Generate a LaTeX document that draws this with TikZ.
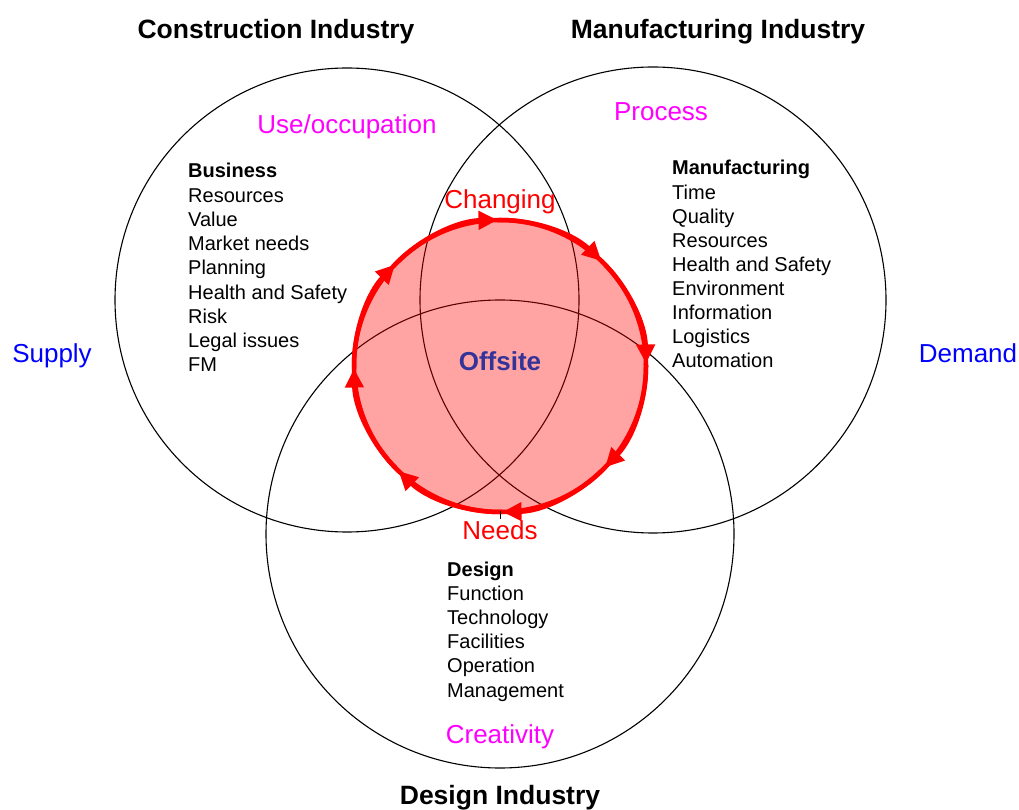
\documentclass[tikz,border=0pt]{standalone}
\usepackage{fontspec}
\setmainfont{Liberation Sans}
\usetikzlibrary{arrows.meta}
\definecolor{offblue}{RGB}{51,51,153}
\definecolor{pinkred}{RGB}{255,0,0}
\definecolor{puremag}{RGB}{255,0,255}
\definecolor{pureblue}{RGB}{0,0,255}
\begin{document}
\begin{tikzpicture}[x=1pt,y=1pt,
  ring/.style={draw=black, line width=1.1pt},
  redring/.style={draw=pinkred, line width=4.5pt},
  title/.style={font=\fontsize{26.5}{30}\selectfont\bfseries, anchor=base, inner sep=0pt},
  big/.style={font=\fontsize{26}{30}\selectfont, anchor=base, inner sep=0pt},
  item/.style={font=\fontsize{20}{24}\selectfont, anchor=base west, inner sep=0pt},
  itemhead/.style={font=\fontsize{20}{24}\selectfont\bfseries, anchor=base west, inner sep=0pt},
]
\useasboundingbox (0,0) rectangle (1019,809);
\coordinate (cL) at (347,509);
\coordinate (cM) at (653,509);
\coordinate (cD) at (500,275);
\coordinate (cO) at (500,443);
% industry circles
\draw[ring] (cL) circle[radius=232];
\draw[ring] (cM) circle[radius=233];
\draw[ring] (cD) circle[radius=234];
% offsite circle
\fill[pinkred, fill opacity=0.36] (cO) circle[radius=146];
\draw[redring] (cO) circle[radius=146];
\foreach \a in {0,45,...,315}
  \draw[redring, -{Triangle[length=19pt,width=18pt]}] (cO) ++(\a+46:146)
    arc[start angle=\a+46, end angle=\a+1, radius=146];
\draw[line width=0.8pt] (500,298) -- (500,290);
% titles
\node[title] (tC) at (276,770) {Construction Industry};
\node[title] (tM) at (718,770) {Manufacturing Industry};
\node[title] (tD) at (500,5) {Design Industry};
% side labels
\node[big, text=pureblue] (sup) at (52,446) {Supply};
\node[big, text=pureblue] (dem) at (968,446) {Demand};
% magenta labels
\node[big, text=puremag] (use) at (347,675) {Use/occupation};
\node[big, text=puremag] (proc) at (661,688) {Process};
\node[big, text=puremag] (crea) at (500,66) {Creativity};
% red labels
\node[big, text=pinkred] (chg) at (500,600) {Changing};
\node[big, text=pinkred] (need) at (500,270) {Needs};
% centre
\node[big, text=offblue, font=\fontsize{26}{30}\selectfont\bfseries] (off) at (500,438) {Offsite};
% lists
\node[itemhead] (bh) at (188,631) {Business};
\foreach \t [count=\i from 1] in {Resources,Value,Market needs,Planning,Health and Safety,Risk,Legal issues,FM}
  \node[item] (b\i) at (188,631-24.25*\i) {\t};
\node[itemhead] (mh) at (672,634) {Manufacturing};
\foreach \t [count=\i from 1] in {Time,Quality,Resources,Health and Safety,Environment,Information,Logistics,Automation}
  \node[item] (m\i) at (672,634-24.1*\i) {\t};
\node[itemhead] (dh) at (447,233) {Design};
\foreach \t [count=\i from 1] in {Function,Technology,Facilities,Operation,Management}
  \node[item] (d\i) at (447,233-24.2*\i) {\t};
\end{tikzpicture}
\end{document}
